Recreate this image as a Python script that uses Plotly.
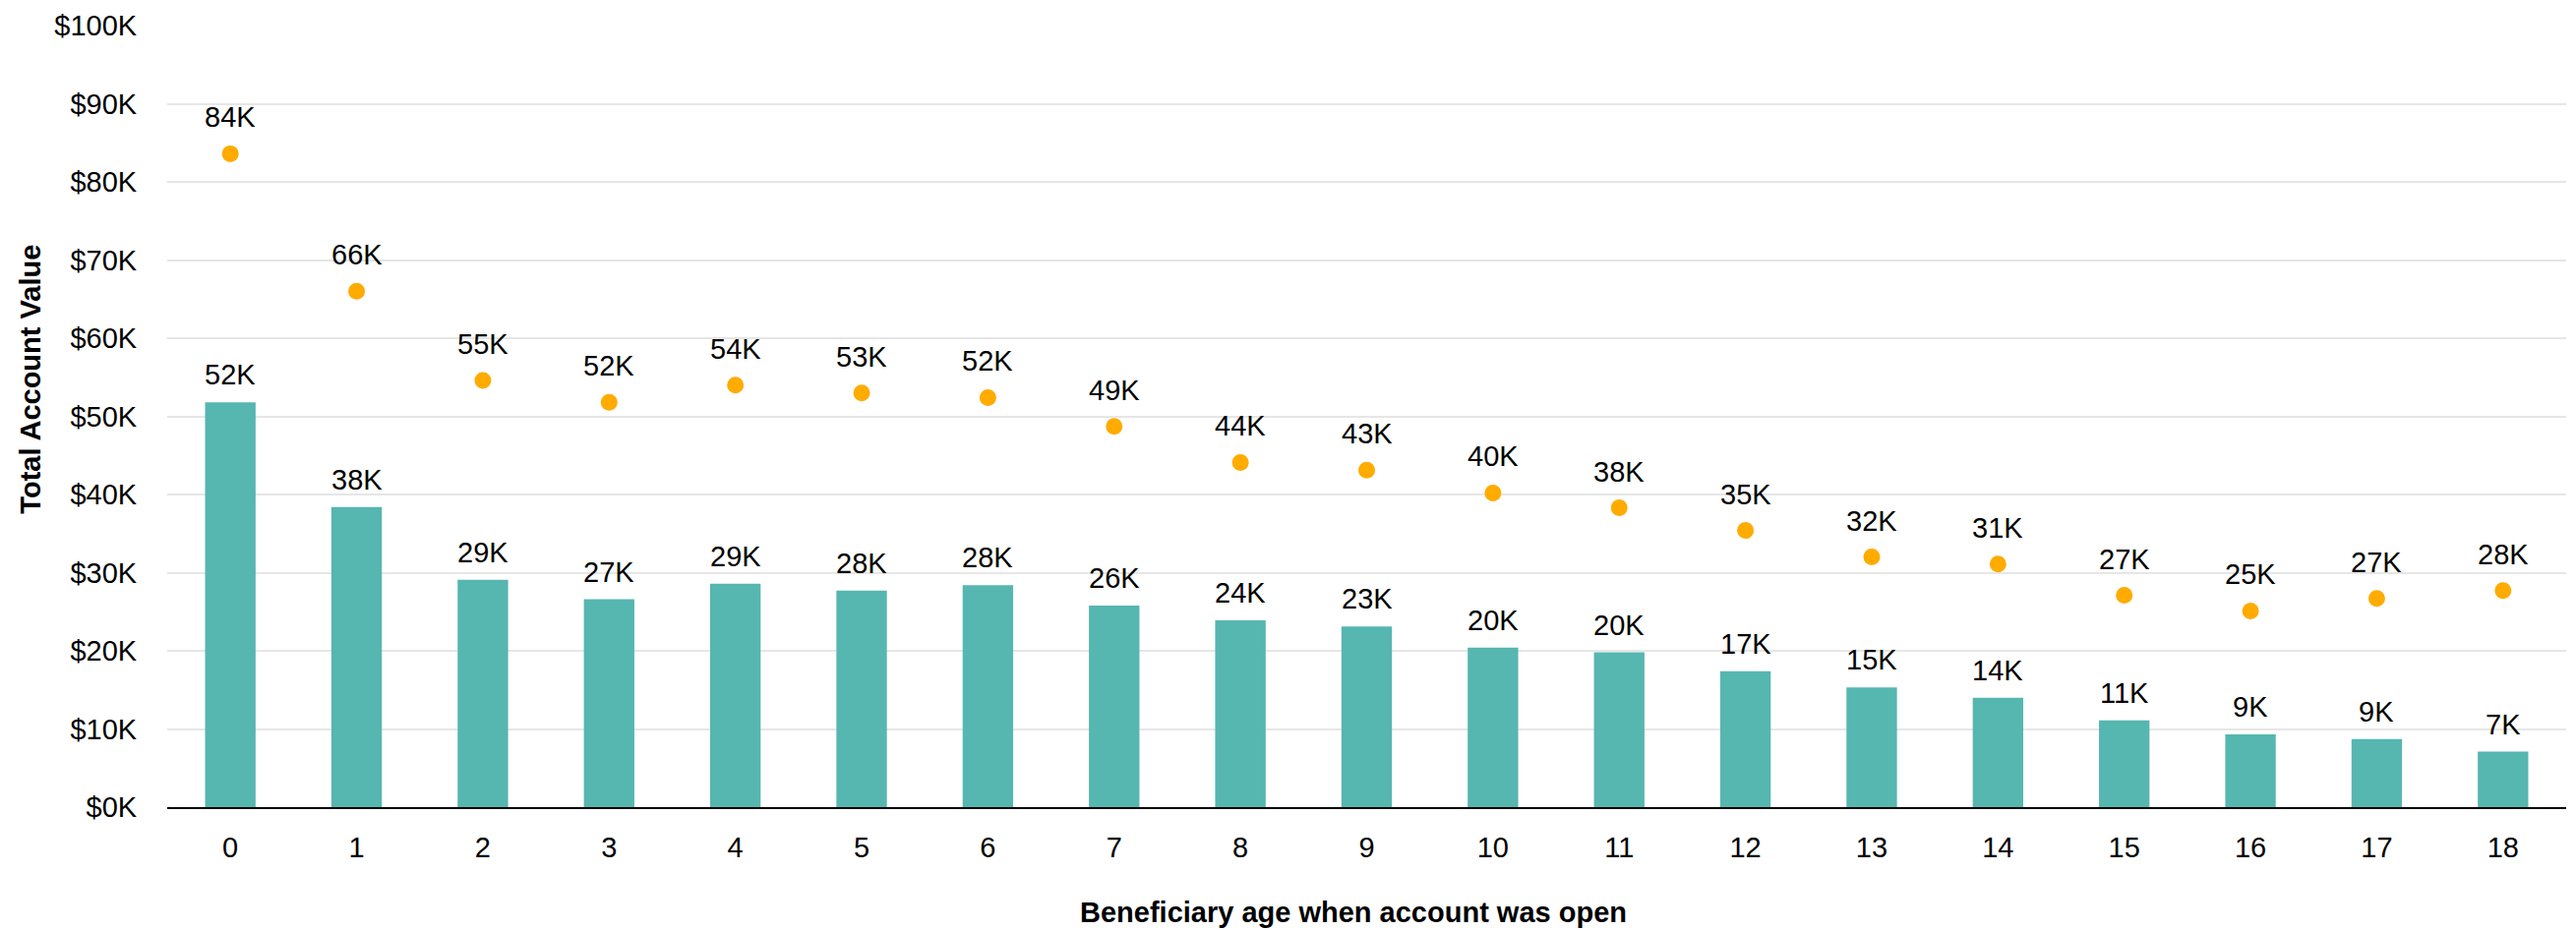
import plotly.graph_objects as go

ages = [str(a) for a in range(19)]
account_value = [51.8, 38.4, 29.1, 26.6, 28.6, 27.7, 28.4, 25.8, 23.9, 23.1,
                 20.4, 19.8, 17.4, 15.3, 14.0, 11.1, 9.3, 8.7, 7.1]
projected_value = [83.6, 66.0, 54.6, 51.8, 54.0, 53.0, 52.4, 48.7, 44.1, 43.1,
                   40.2, 38.3, 35.4, 32.0, 31.1, 27.1, 25.1, 26.7, 27.7]
y_ticks = list(range(0, 101, 10))
y_tick_labels = [f"${v}K" for v in y_ticks]

FONT = "Liberation Sans, Arial, sans-serif"
BAR_COLOR = "#56B6B0"
DOT_COLOR = "#FFAB00"

fig = go.Figure()
fig.add_trace(go.Bar(x=ages, y=account_value, marker=dict(color=BAR_COLOR, line=dict(width=0)),
                     width=0.4, showlegend=False, hoverinfo="x+y"))
fig.add_trace(go.Scatter(x=ages, y=projected_value, mode="markers",
                         marker=dict(color=DOT_COLOR, size=17), showlegend=False))

annotations = []
for a, v in zip(ages, account_value):
    annotations.append(dict(x=a, y=v, xref="x", yref="y", text=f"{v:.0f}K", showarrow=False,
                            yshift=28, yanchor="middle", font=dict(family=FONT, size=29, color="#000")))
for a, v in zip(ages, projected_value):
    annotations.append(dict(x=a, y=v, xref="x", yref="y", text=f"{v:.0f}K", showarrow=False,
                            yshift=37, yanchor="middle", font=dict(family=FONT, size=29, color="#000")))
annotations.append(dict(x=1376, y=928, xref="paper", yref="paper", text="<b>Beneficiary age when account was open</b>",
                        showarrow=False, font=dict(family=FONT, size=29, color="#000")))
annotations.append(dict(x=31, y=384, xref="paper", yref="paper", text="<b>Total Account Value</b>", textangle=-90,
                        showarrow=False, font=dict(family=FONT, size=29, color="#000")))

W, H = 2619, 946
L, R, T, B = 170, 10, 23, 125
# convert pixel positions for titles to paper coords
for ann in annotations[-2:]:
    ann["x"] = (ann["x"] - L) / (W - L - R)
    ann["y"] = (H - B - ann["y"]) / (H - T - B)
    ann["xanchor"] = "center"
    ann["yanchor"] = "middle"

fig.update_layout(
    width=W, height=H,
    margin=dict(l=L, r=R, t=T, b=B, pad=0),
    paper_bgcolor="white", plot_bgcolor="white",
    font=dict(family=FONT, size=29, color="#000"),
    bargap=0.6,
    annotations=annotations,
    xaxis=dict(type="category", range=[-0.5, 18.5], showgrid=False, showline=True, linecolor="#000", linewidth=2,
               ticks="outside", ticklen=14, tickcolor="rgba(0,0,0,0)",
               tickfont=dict(family=FONT, size=29, color="#000")),
    yaxis=dict(range=[0, 100], tickmode="array", tickvals=y_ticks, ticktext=y_tick_labels,
               showgrid=True, gridcolor="#E6E6E6", gridwidth=2, zeroline=False, showline=False,
               ticks="outside", ticklen=24, tickcolor="rgba(0,0,0,0)",
               tickfont=dict(family=FONT, size=29, color="#000")),
)

fig.write_html("out.html")
